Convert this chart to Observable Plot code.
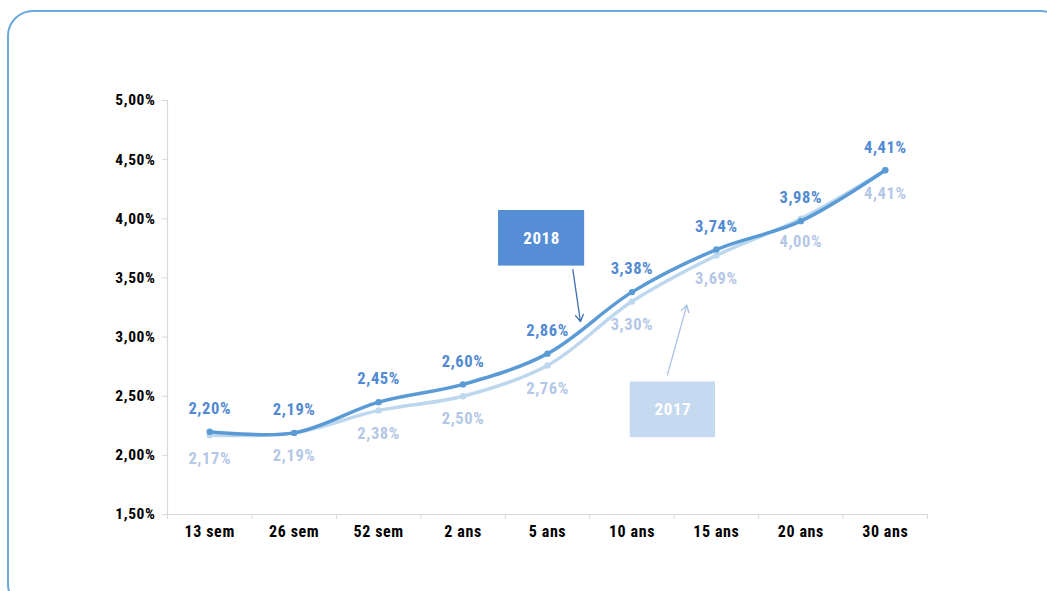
<!DOCTYPE html>
<html><head><meta charset="utf-8">
<script src="https://cdn.jsdelivr.net/npm/d3@7"></script>
<script src="https://cdn.jsdelivr.net/npm/@observablehq/plot@0.6"></script>
<style>
html,body{margin:0;padding:0;background:#fff;width:1047px;height:591px;overflow:hidden}
#wrap{position:relative;width:1047px;height:591px}
#frame{position:absolute;left:7px;top:10px;width:1060px;height:600px;border:2.5px solid #6aa9e0;border-radius:26px;box-sizing:border-box}
#chart{position:absolute;left:0;top:0}
</style></head><body>
<div id="wrap"><div id="frame"></div><div id="chart"></div></div>
<script>
const categories = ["13 sem","26 sem","52 sem","2 ans","5 ans","10 ans","15 ans","20 ans","30 ans"];
const rates2018 = [2.20,2.19,2.45,2.60,2.86,3.38,3.74,3.98,4.41];
const rates2017 = [2.17,2.19,2.38,2.50,2.76,3.30,3.69,4.00,4.41];
const yTicks = [1.5,2.0,2.5,3.0,3.5,4.0,4.5,5.0];
// annotation boxes (data coordinates: category index, rate)
const boxes = [
  {label:"2018", x1:3.42, x2:4.44, y1:3.60, y2:4.07, fill:"#558ed5"},
  {label:"2017", x1:4.98, x2:5.99, y1:2.15, y2:2.62, fill:"#c5d9f1"}
];
const arrows = [
  {x1:4.30, y1:3.57, x2:4.39, y2:3.13, stroke:"#3f6fb0"},
  {x1:5.42, y1:2.68, x2:5.65, y2:3.27, stroke:"#a9c3e3"}
];

const fmt = v => v.toFixed(2).replace(".", ",") + "%";
const idx = d3.range(categories.length);
const d18 = idx.map(i => ({i, v: rates2018[i]}));
const d17 = idx.map(i => ({i, v: rates2017[i]}));
const boundaries = d3.range(categories.length + 1).map(k => k - 0.5);
const FONT = '"Liberation Sans Narrow","Roboto Condensed","DejaVu Sans Condensed",Arial,sans-serif';

const c18 = "#5b9bd5", c17 = "#bdd7ee", t18 = "#5189d2", t17 = "#b4c7e7";

const chart = Plot.plot({
  width: 1047, height: 591,
  marginLeft: 167, marginRight: 120, marginTop: 100, marginBottom: 77,
  style: {fontFamily: FONT, fontSize: "15px", fontWeight: "bold", background: "transparent", color: "#000", letterSpacing: "0.6px"},
  x: {domain: [-0.5, 8.5]},
  y: {domain: [1.5, 5]},
  marks: [
    Plot.ruleX([-0.5], {stroke: "#d9d9d9", strokeWidth: 1.2}),
    Plot.ruleY([1.5], {stroke: "#d9d9d9", strokeWidth: 1.2}),
    Plot.axisY({ticks: yTicks, tickFormat: fmt, tickSize: 5, tickPadding: 7, stroke: "#d9d9d9", fill: "#000", label: null, fontSize: 15.5, fontWeight: "bold"}),
    Plot.axisX({ticks: boundaries, tickFormat: () => "", tickSize: 5, stroke: "#d9d9d9", label: null}),
    Plot.axisX({ticks: idx, tickFormat: i => categories[i], tickSize: 0, tickPadding: 11, fill: "#000", label: null, fontSize: 16, fontWeight: "bold"}),
    Plot.lineY(d17, {x: "i", y: "v", stroke: c17, strokeWidth: 3.5, curve: "catmull-rom"}),
    Plot.dot(d17, {x: "i", y: "v", fill: c17, r: 3.2}),
    Plot.lineY(d18, {x: "i", y: "v", stroke: c18, strokeWidth: 3.5, curve: "catmull-rom"}),
    Plot.dot(d18, {x: "i", y: "v", fill: c18, r: 3.2}),
    Plot.text(d18, {x: "i", y: "v", text: d => fmt(d.v), dy: -23, fill: t18, fontSize: 16.5, fontWeight: "bold"}),
    Plot.text(d17, {x: "i", y: "v", text: d => fmt(d.v), dy: 23, fill: t17, fontSize: 16.5, fontWeight: "bold"}),
    Plot.rect(boxes, {x1: "x1", x2: "x2", y1: "y1", y2: "y2", fill: "fill"}),
    Plot.text(boxes, {x: d => (d.x1 + d.x2) / 2, y: d => (d.y1 + d.y2) / 2, text: "label", fill: "#fff", fontSize: 17, fontWeight: "bold"}),
    Plot.arrow(arrows, {x1: "x1", y1: "y1", x2: "x2", y2: "y2", stroke: "stroke", strokeWidth: 1.3, headLength: 9})
  ]
});
document.getElementById("chart").appendChild(chart);
</script></body></html>
